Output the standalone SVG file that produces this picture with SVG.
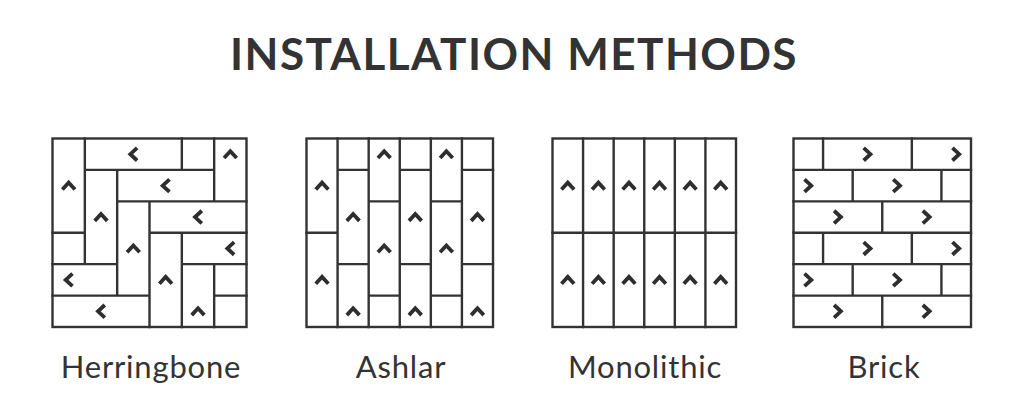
<svg xmlns="http://www.w3.org/2000/svg" xmlns:xlink="http://www.w3.org/1999/xlink" width="1024" height="410" viewBox="0 0 1024 410">
  <defs>
    <style>
      .frame { fill: #ffffff; stroke: #333333; stroke-width: 2.4; }
      .grid { fill: none; stroke: #333333; stroke-width: 2.4; stroke-linecap: square; }
      .chev { fill: none; stroke: #2e2e2e; stroke-width: 3.8; stroke-linejoin: miter; stroke-miterlimit: 10; }
      .title { font-family: Lato, "Liberation Sans", sans-serif; font-weight: 700; font-size: 44px; fill: #333333; letter-spacing: 1.5px; }
      .label { font-family: Lato, "Liberation Sans", sans-serif; font-weight: 400; font-size: 31px; fill: #333333; letter-spacing: 0.8px; }
    </style>
    <path id="up" class="chev" d="M-6.3,3.8 L0,-3 L6.3,3.8"/>
    <path id="left" class="chev" d="M3.8,-6.3 L-3,0 L3.8,6.3"/>
    <path id="right" class="chev" d="M-3.8,-6.3 L3,0 L-3.8,6.3"/>
  </defs>
  <rect width="1024" height="410" fill="#ffffff"/>

  <text class="title" x="514" y="70" text-anchor="middle">INSTALLATION METHODS</text>

  <g id="herringbone">
    <rect class="frame" x="52.5" y="138.5" width="194" height="188.5"/>
    <path class="grid" d="M84.83,138.5V264.17 M117.17,169.92V295.58 M149.5,201.33V327 M181.83,138.5V169.92 M181.83,232.75V327 M214.17,138.5V201.33 M214.17,264.17V327 M84.83,169.92H214.17 M117.17,201.33H246.5 M52.5,232.75H84.83 M149.5,232.75H246.5 M52.5,264.17H117.17 M181.83,264.17H246.5 M52.5,295.58H149.5 M214.17,295.58H246.5"/>
    <use href="#left" x="133.33" y="154.21"/>
    <use href="#up" x="230.33" y="154.21"/>
    <use href="#up" x="68.67" y="185.63"/>
    <use href="#left" x="165.67" y="185.63"/>
    <use href="#up" x="101" y="217.04"/>
    <use href="#left" x="198" y="217.04"/>
    <use href="#up" x="133.33" y="248.46"/>
    <use href="#left" x="230.33" y="248.46"/>
    <use href="#up" x="165.67" y="279.88"/>
    <use href="#left" x="68.67" y="279.88"/>
    <use href="#left" x="101" y="311.29"/>
    <use href="#up" x="198" y="311.29"/>
    <text class="label" x="151" y="378" text-anchor="middle">Herringbone</text>
  </g>

  <g id="ashlar">
    <rect class="frame" x="306.5" y="138.5" width="186.5" height="188.5"/>
    <path class="grid" d="M337.58,138.5V327 M368.67,138.5V327 M399.75,138.5V327 M430.83,138.5V327 M461.92,138.5V327 M306.5,232.75H337.58 M337.58,169.92H368.67 M337.58,264.17H368.67 M368.67,201.33H399.75 M368.67,295.58H399.75 M399.75,169.92H430.83 M399.75,264.17H430.83 M430.83,201.33H461.92 M430.83,295.58H461.92 M461.92,169.92H493 M461.92,264.17H493"/>
    <use href="#up" x="322.04" y="185.63"/>
    <use href="#up" x="322.04" y="279.88"/>
    <use href="#up" x="353.13" y="217.04"/>
    <use href="#up" x="353.13" y="311.29"/>
    <use href="#up" x="384.21" y="154.21"/>
    <use href="#up" x="384.21" y="248.46"/>
    <use href="#up" x="415.29" y="217.04"/>
    <use href="#up" x="415.29" y="311.29"/>
    <use href="#up" x="446.38" y="154.21"/>
    <use href="#up" x="446.38" y="248.46"/>
    <use href="#up" x="477.46" y="217.04"/>
    <use href="#up" x="477.46" y="311.29"/>
    <text class="label" x="401" y="378" text-anchor="middle">Ashlar</text>
  </g>

  <g id="monolithic">
    <rect class="frame" x="552.5" y="138.5" width="183.5" height="188.5"/>
    <path class="grid" d="M583.08,138.5V327 M613.67,138.5V327 M644.25,138.5V327 M674.83,138.5V327 M705.42,138.5V327 M552.5,232.75H736"/>
    <use href="#up" x="567.79" y="185.63"/>
    <use href="#up" x="598.38" y="185.63"/>
    <use href="#up" x="628.96" y="185.63"/>
    <use href="#up" x="659.54" y="185.63"/>
    <use href="#up" x="690.13" y="185.63"/>
    <use href="#up" x="720.71" y="185.63"/>
    <use href="#up" x="567.79" y="279.88"/>
    <use href="#up" x="598.38" y="279.88"/>
    <use href="#up" x="628.96" y="279.88"/>
    <use href="#up" x="659.54" y="279.88"/>
    <use href="#up" x="690.13" y="279.88"/>
    <use href="#up" x="720.71" y="279.88"/>
    <text class="label" x="645" y="378" text-anchor="middle">Monolithic</text>
  </g>

  <g id="brick">
    <rect class="frame" x="793.5" y="138.5" width="177.5" height="188.5"/>
    <path class="grid" d="M793.5,169.92H971 M793.5,201.33H971 M793.5,232.75H971 M793.5,264.17H971 M793.5,295.58H971 M823.08,138.5V169.92 M911.83,138.5V169.92 M852.67,169.92V201.33 M941.42,169.92V201.33 M882.25,201.33V232.75 M823.08,232.75V264.17 M911.83,232.75V264.17 M852.67,264.17V295.58 M941.42,264.17V295.58 M882.25,295.58V327"/>
    <use href="#right" x="867.46" y="154.21"/>
    <use href="#right" x="956.21" y="154.21"/>
    <use href="#right" x="808.29" y="185.63"/>
    <use href="#right" x="897.04" y="185.63"/>
    <use href="#right" x="837.88" y="217.04"/>
    <use href="#right" x="926.63" y="217.04"/>
    <use href="#right" x="867.46" y="248.46"/>
    <use href="#right" x="956.21" y="248.46"/>
    <use href="#right" x="808.29" y="279.88"/>
    <use href="#right" x="897.04" y="279.88"/>
    <use href="#right" x="837.88" y="311.29"/>
    <use href="#right" x="926.63" y="311.29"/>
    <text class="label" x="884" y="378" text-anchor="middle">Brick</text>
  </g>

  <g id="connectors"/>
</svg>
